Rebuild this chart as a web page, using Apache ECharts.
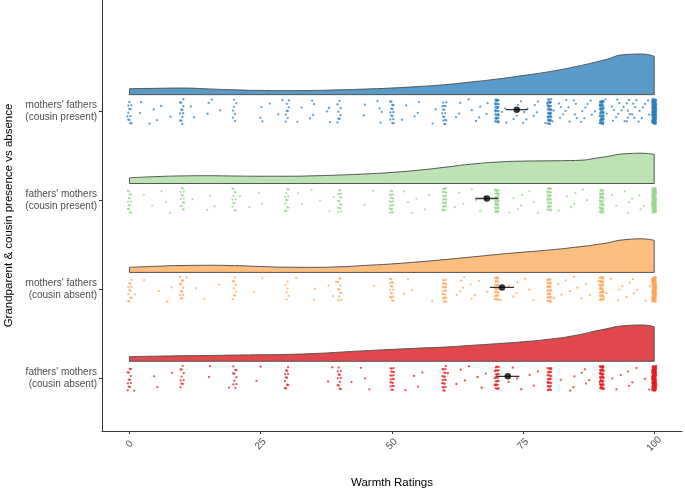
<!DOCTYPE html>
<html>
<head>
<meta charset="utf-8">
<script src="https://cdn.jsdelivr.net/npm/echarts@6/dist/echarts.min.js"></script>
<style>html,body{margin:0;padding:0;background:#fff}#c{width:685px;height:492px}</style>
</head>
<body>
<div id="c"></div>
<script>
// ---- data (groups listed bottom -> top) ----
const categories = [
  "fathers' mothers\n(cousin absent)",
  "mothers' fathers\n(cousin absent)",
  "fathers' mothers\n(cousin present)",
  "mothers' fathers\n(cousin present)"
];
const xTicks = [0, 25, 50, 75, 100];
const xTitle = "Warmth Ratings";
const yTitle = "Grandparent & cousin presence vs absence";

// density estimate (relative height) sampled at these ratings
const densityX = [0,5,10,15,20,25,30,35,40,45,50,55,60,65,70,75,80,85,90,95,97.5,100];
const densityFMAbsent  = [4.7,5.1,5.5,5.8,6.2,6.5,6.9,7.7,9.1,10.6,11.9,13.1,14.2,15.9,17.6,19.5,22.1,25.9,31.6,35.8,36.3,34.6];
const densityMFAbsent  = [5.1,6.1,6.9,7.1,6.8,5.9,5.2,5.1,5.6,7.0,8.5,10.5,12.8,15.3,17.9,20.2,22.4,25.2,28.6,33.0,33.6,32.0];
const densityFMPresent = [5.7,6.9,7.6,7.8,7.5,7.3,7.3,7.7,8.5,9.6,11.1,13.3,16.2,19.3,21.4,22.4,22.7,23.1,26.2,29.9,30.3,29.1];
const densityMFPresent = [6.0,6.3,6.6,5.7,4.8,4.2,4.0,4.2,4.8,5.6,6.6,8.1,9.9,12.6,15.5,19.1,23.0,28.0,34.0,40.2,40.6,38.3];

// individual ratings as frequency tables (rating values, number of respondents)
const ratingsFMAbsent  = [0,1,5,8,10,15,19,20,24,25,30,38,39,40,42,44,45,46,50,53,54,55,56,60,61,62,63,64,65,66,67,68,70,72,73,74,75,76,77,78,80,82,84,85,86,87,88,90,92,93,94,95,96,97,98,99,100];
const countsFMAbsent   = [12,1,2,1,10,2,1,10,1,1,12,1,1,12,1,1,1,1,20,1,1,1,1,20,1,1,1,1,1,1,1,1,30,1,1,1,1,1,1,1,30,1,1,2,1,2,1,50,1,1,1,2,1,1,1,1,110];
const ratingsMFAbsent  = [0,1,3,6,7,8,10,11,13,14,17,20,24,25,30,32,35,38,39,40,47,50,52,53,54,58,60,62,63,64,65,66,67,68,70,71,72,73,74,75,76,77,80,81,82,83,84,85,86,87,88,89,90,91,92,93,94,95,96,97,98,99,100];
const countsMFAbsent   = [12,1,1,1,1,1,12,1,1,1,1,9,1,1,6,1,2,1,2,11,1,16,1,1,1,1,24,1,2,2,2,1,1,1,30,1,1,1,2,1,1,1,36,1,2,1,1,2,1,1,1,1,42,1,1,2,1,2,2,1,1,1,95];
const ratingsFMPresent = [0,3,4,6,7,8,10,12,15,16,20,21,23,25,30,32,33,35,36,38,39,40,45,46,50,52,53,54,55,56,57,60,62,63,64,65,66,67,68,70,72,73,74,75,76,77,78,80,82,83,84,85,86,87,90,92,93,94,95,96,97,98,100];
const countsFMPresent  = [14,1,1,1,1,1,14,1,2,1,12,1,1,2,12,1,1,1,1,1,1,16,1,1,20,1,1,1,1,1,1,28,1,1,1,1,1,1,1,40,1,1,1,2,1,1,1,36,1,1,1,2,1,1,45,1,1,1,2,1,2,1,90];
const ratingsMFPresent = [0,2,4,5,6,8,10,12,15,16,17,20,25,27,28,29,30,32,33,34,35,38,40,45,47,48,50,52,53,54,55,58,60,62,63,65,66,67,68,70,71,72,73,74,75,76,77,78,79,80,81,82,83,84,85,86,87,88,89,90,91,92,93,94,95,96,97,98,99,100];
const countsMFPresent  = [12,2,1,2,1,1,12,2,2,1,1,7,3,1,1,1,8,1,1,1,3,3,8,2,1,3,14,1,1,1,2,2,16,1,2,2,1,2,2,36,1,2,1,2,3,2,2,2,1,42,2,3,3,2,4,2,3,2,1,55,2,3,4,3,6,4,3,3,2,110];

// group means and 95% CI half-widths
const means  = [72.1, 71.0, 68.1, 73.8];
const ciHalf = [2.2, 2.3, 2.2, 2.1];

// ---- styling ----
const fillColors  = ['#E0484C', '#FDBE80', '#BDE3B5', '#589BC8'];
const pointColors = ['#E41A1C', '#FDA658', '#98D48F', '#2B7DBC'];
const densities = [densityFMAbsent, densityMFAbsent, densityFMPresent, densityMFPresent];
const ratingTables = [[ratingsFMAbsent, countsFMAbsent],[ratingsMFAbsent, countsMFAbsent],[ratingsFMPresent, countsFMPresent],[ratingsMFPresent, countsMFPresent]];
const FONT = "'Liberation Sans', Arial, Helvetica, sans-serif";
const UNIT_PX = 88.9;            // pixels per category step
const densScale = 1 / UNIT_PX;   // density value -> category units
const baseOffset = 17 / UNIT_PX; // cloud baseline above category
const jitterH = 12.5 / UNIT_PX;  // vertical jitter half-height
const jitterW = 0.4;             // horizontal jitter half-width
const meanOffset = 2 / UNIT_PX;

function frac(v) { return v - Math.floor(v); }
function expand(vals, counts) {
  const out = [];
  vals.forEach((v, i) => { for (let k = 0; k < counts[i]; k++) out.push(v); });
  return out;
}

const series = [];
categories.forEach((cat, gi) => {
  const pos = gi + 1;
  const base = pos + baseOffset;
  const dens = densities[gi];
  // cloud fill + top outline
  series.push({
    type: 'line', smooth: 0.6, symbol: 'none', z: 2,
    data: densityX.map((x, k) => [x, base + dens[k] * densScale]),
    lineStyle: { color: '#555', width: 1 },
    areaStyle: { color: fillColors[gi], opacity: 1, origin: base },
    silent: true
  });
  // side & bottom outline
  const last = densityX.length - 1;
  series.push({
    type: 'line', symbol: 'none', z: 3, silent: true,
    data: [[densityX[0], base + dens[0] * densScale], [densityX[0], base], [densityX[last], base], [densityX[last], base + dens[last] * densScale]],
    lineStyle: { color: '#555', width: 1 }
  });
  // rain (jittered points)
  const ratings = expand(ratingTables[gi][0], ratingTables[gi][1]);
  series.push({
    type: 'scatter', symbol: 'circle', symbolSize: 2.3, z: 4, silent: true,
    itemStyle: { color: pointColors[gi], opacity: 0.75 },
    data: ratings.map((r, k) => [
      r + (frac(k * 0.7548776662 + 0.13 * gi + 0.31) * 2 - 1) * jitterW,
      pos + (frac(k * 0.5698402910 + 0.29 * gi + 0.17) * 2 - 1) * jitterH
    ])
  });
  // error bar
  series.push({
    type: 'line', symbol: 'none', z: 5, silent: true,
    data: [[means[gi] - ciHalf[gi], pos + meanOffset], [means[gi] + ciHalf[gi], pos + meanOffset]],
    lineStyle: { color: '#333', width: 1.3 }
  });
  // mean
  series.push({
    type: 'scatter', symbol: 'circle', symbolSize: 6.5, z: 6, silent: true,
    itemStyle: { color: '#000' },
    data: [[means[gi], pos + meanOffset]]
  });
});

const chart = echarts.init(document.getElementById('c'), null, { renderer: 'canvas' });
chart.setOption({
  animation: false,
  backgroundColor: '#fff',
  grid: { left: 102, right: 3, top: 0, bottom: 61, containLabel: false, outerBoundsMode: 'none' },
  xAxis: {
    type: 'value', min: -5.24, max: 105.3,
    axisLine: { show: true, onZero: false, lineStyle: { color: '#333', width: 1 } },
    axisTick: { show: true, customValues: xTicks, length: 3, lineStyle: { color: '#333' } },
    axisLabel: { customValues: xTicks, rotate: 45, align: 'center', verticalAlign: 'middle', margin: 13,
                 color: '#4D4D4D', fontSize: 10, fontFamily: FONT },
    splitLine: { show: false }
  },
  yAxis: {
    type: 'value', min: 0.407, max: 5.256,
    axisLine: { show: true, onZero: false, lineStyle: { color: '#333', width: 1 } },
    axisTick: { show: true, customValues: [1, 2, 3, 4], length: 3, lineStyle: { color: '#333' } },
    axisLabel: { customValues: [1, 2, 3, 4], formatter: v => categories[Math.round(v) - 1] || '',
                 margin: 5, color: '#4D4D4D', fontSize: 10, lineHeight: 12, align: 'right', fontFamily: FONT },
    splitLine: { show: false }
  },
  graphic: [
    { type: 'text', x: 392, y: 483, style: { text: xTitle, fontSize: 11.5, fontFamily: FONT, fill: '#000', align: 'center', verticalAlign: 'middle' } },
    { type: 'text', x: 9, y: 215.5, rotation: Math.PI / 2, style: { text: yTitle, fontSize: 11.5, fontFamily: FONT, fill: '#000', align: 'center', verticalAlign: 'middle' } }
  ],
  series: series
});
</script>
</body>
</html>
